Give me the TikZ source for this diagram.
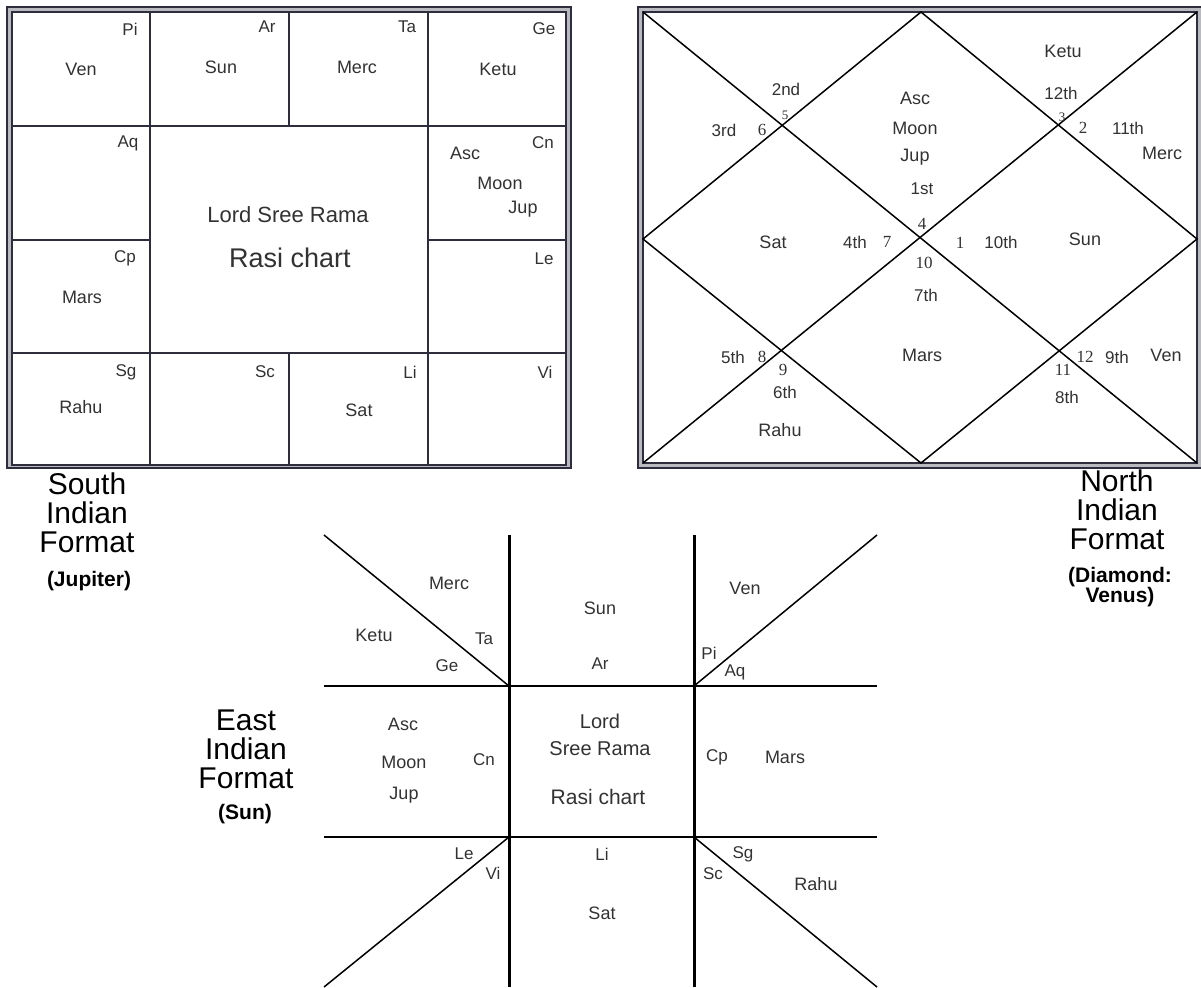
\documentclass[tikz,border=0pt]{standalone}
\usepackage{fontspec}
\setmainfont{Liberation Sans}
\newfontfamily\numfont{Liberation Serif}
\usetikzlibrary{positioning, calc}
\definecolor{gridcolor}{RGB}{45,45,62}
\definecolor{framegray}{RGB}{185,185,192}
\definecolor{labelcolor}{RGB}{50,50,50}

\begin{document}
\begin{tikzpicture}[
    x=0.5pt, y=-0.5pt,
    every node/.style={inner sep=0pt, text=labelcolor},
    planet/.style={font=\fontsize{9}{10}\selectfont},
    sign/.style={font=\fontsize{8.5}{10}\selectfont},
    house/.style={font=\fontsize{8.5}{10}\selectfont},
    num/.style={font=\numfont\fontsize{8.5}{10}\selectfont},
    smallnum/.style={font=\numfont\fontsize{6.5}{8}\selectfont},
    title/.style={font=\fontsize{15}{14.5}\selectfont, align=center, text=black},
    subtitle/.style={font=\bfseries\fontsize{10.5}{10}\selectfont, align=center, text=black},
    gridline/.style={line width=1pt, draw=gridcolor},
    diagline/.style={line width=0.75pt, draw=black},
    eastline/.style={line width=1.5pt, draw=black},
    eastrule/.style={line width=1.2pt, draw=black},
  ]
  \useasboundingbox (0,0) rectangle (1201,987);

  % South Indian chart: frame and grid
  \draw[line width=1pt, draw=gridcolor, fill=framegray] (7,7) rectangle (571,468);
  \draw[line width=0.75pt, draw=gridcolor, fill=white] (12,12) rectangle (566,465);
  \draw[gridline] (12,126) -- (566,126);
  \draw[gridline] (12,353) -- (566,353);
  \draw[gridline] (12,240) -- (150,240);
  \draw[gridline] (428,240) -- (566,240);
  \draw[gridline] (150,12) -- (150,465);
  \draw[gridline] (428,12) -- (428,465);
  \draw[gridline] (289,12) -- (289,126);
  \draw[gridline] (289,353) -- (289,465);

  % South chart signs and planets
  \node[sign] (sPi) at (130,29) {Pi};
  \node[planet] (sVen) at (81,69) {Ven};
  \node[sign] (sAr) at (267,27) {Ar};
  \node[planet] (sSun) at (221,67) {Sun};
  \node[sign] (sTa) at (407,27) {Ta};
  \node[planet] (sMerc) at (357,67) {Merc};
  \node[sign] (sGe) at (544,29) {Ge};
  \node[planet] (sKetu) at (498,69) {Ketu};
  \node[sign] (sAq) at (128,143) {Aq};
  \node[sign] (sCn) at (543,143) {Cn};
  \node[planet] (sAsc) at (465,153) {Asc};
  \node[planet] (sMoon) at (500,183) {Moon};
  \node[planet] (sJup) at (523,209) {Jup};
  \node[sign] (sCp) at (125,258) {Cp};
  \node[planet] (sMars) at (82,297) {Mars};
  \node[sign] (sLe) at (544,259) {Le};
  \node[sign] (sSg) at (126,372) {Sg};
  \node[planet] (sRahu) at (81,407) {Rahu};
  \node[sign] (sSc) at (265,372) {Sc};
  \node[sign] (sLi) at (410,372) {Li};
  \node[planet] (sSat) at (359,410) {Sat};
  \node[sign] (sVi) at (545,372) {Vi};
  \node[font=\fontsize{11}{12}\selectfont] (sLord) at (288,215) {Lord Sree Rama};
  \node[font=\fontsize{13.5}{15}\selectfont] (sRasi) at (290,258) {Rasi chart};

  % North Indian chart: frame and diamond
  \draw[line width=1pt, draw=gridcolor, fill=framegray] (638,7) rectangle (1203,468);
  \draw[line width=0.75pt, draw=gridcolor, fill=white] (643,12) rectangle (1197,463);
  \coordinate (nNW) at (643,12);
  \coordinate (nNE) at (1197,12);
  \coordinate (nSE) at (1197,463);
  \coordinate (nSW) at (643,463);
  \coordinate (nN) at (921,12);
  \coordinate (nE) at (1197,239);
  \coordinate (nS) at (921,463);
  \coordinate (nW) at (643,239);
  \draw[diagline] (nNW) -- (nSE);
  \draw[diagline] (nNE) -- (nSW);
  \draw[diagline] (nN) -- (nE) -- (nS) -- (nW) -- cycle;

  % North chart houses
  \node[house] (nSecond) at (786,89) {2nd};
  \node[smallnum] (nFive) at (785,115) {5};
  \node[house] (nThird) at (724,130) {3rd};
  \node[num] (nSix) at (762,130) {6};
  \node[planet] (nAsc) at (915,98) {Asc};
  \node[planet] (nMoon) at (915,128) {Moon};
  \node[planet] (nJup) at (915,157) {Jup};
  \node[house] (nFirst) at (922,189) {1st};
  \node[num] (nFour) at (922,224) {4};
  \node[planet] (nKetu) at (1063,51) {Ketu};
  \node[house] (nTwelfth) at (1061,93) {12th};
  \node[smallnum] (nThree) at (1062,117) {3};
  \node[num] (nTwo) at (1083,128) {2};
  \node[house] (nEleventh) at (1128,128) {11th};
  \node[planet] (nMerc) at (1162,153) {Merc};
  \node[planet] (nSat) at (773,242) {Sat};
  \node[house] (nFourth) at (855,242) {4th};
  \node[num] (nSeven) at (887,242) {7};
  \node[num] (nOne) at (960,243) {1};
  \node[house] (nTenth) at (1001,242) {10th};
  \node[planet] (nSun) at (1085,239) {Sun};
  \node[num] (nTen) at (924,263) {10};
  \node[house] (nSeventh) at (926,295) {7th};
  \node[planet] (nMars) at (922,355) {Mars};
  \node[house] (nFifth) at (733,357) {5th};
  \node[num] (nEight) at (762,357) {8};
  \node[num] (nNine) at (783,370) {9};
  \node[house] (nSixth) at (785,392) {6th};
  \node[planet] (nRahu) at (780,430) {Rahu};
  \node[num] (nTwelve) at (1085,357) {12};
  \node[house] (nNinth) at (1117,357) {9th};
  \node[planet] (nVen) at (1166,355) {Ven};
  \node[num] (nEleven) at (1063,370) {11};
  \node[house] (nEighth) at (1067,397) {8th};

  % East Indian chart: lines
  \coordinate (eTL) at (324,535);
  \coordinate (eTR) at (877,535);
  \coordinate (eBL) at (324,987);
  \coordinate (eBR) at (877,987);
  \coordinate (eA) at (509,686);
  \coordinate (eB) at (694,686);
  \coordinate (eC) at (509,837);
  \coordinate (eD) at (694,837);
  \draw[eastline] (509,535) -- (509,987);
  \draw[eastline] (694,535) -- (694,987);
  \draw[eastrule] (324,686) -- (877,686);
  \draw[eastrule] (324,837) -- (877,837);
  \draw[diagline] (eTL) -- (eA);
  \draw[diagline] (eTR) -- (eB);
  \draw[diagline] (eC) -- (eBL);
  \draw[diagline] (eD) -- (eBR);

  % East chart signs and planets
  \node[planet] (eMerc) at (449,583) {Merc};
  \node[planet] (eKetu) at (374,635) {Ketu};
  \node[sign] (eTa) at (484,639) {Ta};
  \node[sign] (eGe) at (447,666) {Ge};
  \node[planet] (eSun) at (600,608) {Sun};
  \node[sign] (eAr) at (600,664) {Ar};
  \node[planet] (eVen) at (745,588) {Ven};
  \node[sign] (ePi) at (709,653) {Pi};
  \node[sign] (eAq) at (735,672) {Aq};
  \node[planet] (eAsc) at (403,724) {Asc};
  \node[planet] (eMoon) at (404,762) {Moon};
  \node[planet] (eJup) at (404,795) {Jup};
  \node[sign] (eCn) at (484,760) {Cn};
  \node[font=\fontsize{10}{13.5}\selectfont, align=center] (eLord) at (600,735) {Lord\\Sree Rama};
  \node[font=\fontsize{10.5}{12}\selectfont] (eRasi) at (598,797) {Rasi chart};
  \node[sign] (eCp) at (717,757) {Cp};
  \node[planet] (eMars) at (785,757) {Mars};
  \node[sign] (eLe) at (464,854) {Le};
  \node[sign] (eVi) at (493,873) {Vi};
  \node[sign] (eLi) at (602,854) {Li};
  \node[planet] (eSat) at (602,913) {Sat};
  \node[sign] (eSg) at (743,854) {Sg};
  \node[sign] (eSc) at (713,874) {Sc};
  \node[planet] (eRahu) at (816,884) {Rahu};

  % Format labels
  \node[title] (southTitle) at (87,513) {South\\Indian\\Format};
  \node[subtitle] (southSub) at (89,581) {(Jupiter)};
  \node[title] (northTitle) at (1117,510) {North\\Indian\\Format};
  \node[subtitle] (northSub) at (1120,587) {(Diamond:\\ Venus)};
  \node[title] (eastTitle) at (246,749) {East\\Indian\\Format};
  \node[subtitle] (eastSub) at (245,814) {(Sun)};
\end{tikzpicture}
\end{document}
